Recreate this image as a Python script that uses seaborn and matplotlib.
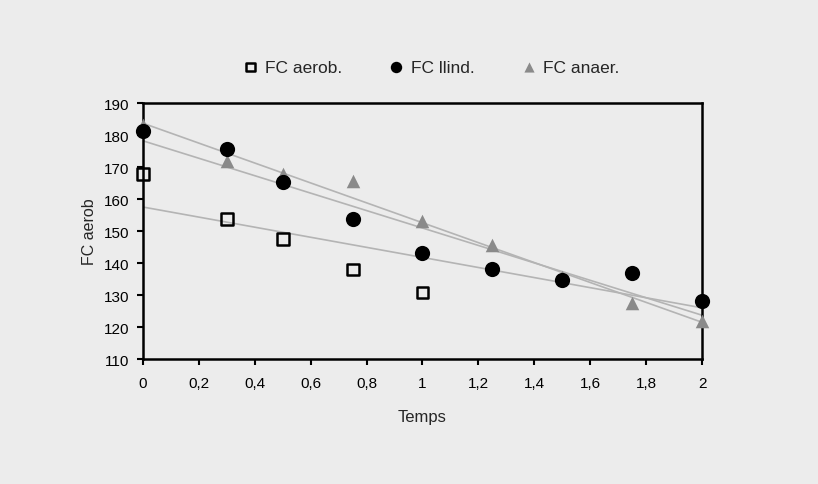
import matplotlib
matplotlib.use("Agg")
import matplotlib.pyplot as plt
import seaborn as sns

# values
temps = [0, 0.3, 0.5, 0.75, 1, 1.25, 1.5, 1.75, 2]
temps_aerob = [0, 0.3, 0.5, 0.75, 1]
fc_aerob = [167.7, 153.8, 147.6, 138.0, 130.8]
fc_llind = [181.4, 175.5, 165.4, 153.8, 143.2, 138.0, 134.6, 137.0, 128.2]
fc_anaer = [183.0, 171.8, 167.7, 165.6, 153.0, 145.6, 135.6, 127.4, 122.0]

# the aerob trend line as printed (it is not a fit of the squares)
aerob_trend_x = [0, 2]
aerob_trend_y = [157.5, 126.0]

x_ticks = [0, 0.2, 0.4, 0.6, 0.8, 1, 1.2, 1.4, 1.6, 1.8, 2]
x_tick_labels = ['0', '0,2', '0,4', '0,6', '0,8', '1', '1,2', '1,4', '1,6', '1,8', '2']
y_ticks = [110, 120, 130, 140, 150, 160, 170, 180, 190]

sns.set_style("ticks")
plt.rcParams['font.family'] = ['Liberation Sans', 'DejaVu Sans']

bg = '#ececec'
fig = plt.figure(figsize=(8.18, 4.85), dpi=100, facecolor=bg)
ax = fig.add_axes([0.1748, 0.2577, 0.6834, 0.5278])
ax.set_facecolor(bg)
ax.set_xlim(0, 2)
ax.set_ylim(110, 190)

## trend lines (drawn first so the markers sit on top)
line_kw = dict(color='#b4b4b4', linewidth=1.2)
sns.lineplot(x=aerob_trend_x, y=aerob_trend_y, ax=ax, **line_kw)
sns.regplot(x=temps, y=fc_llind, ax=ax, scatter=False, ci=None, truncate=False, line_kws=line_kw)
sns.regplot(x=temps, y=fc_anaer, ax=ax, scatter=False, ci=None, truncate=False, line_kws=line_kw)

## points
sns.scatterplot(x=temps_aerob, y=fc_aerob, ax=ax, marker='s', s=72, facecolor='none',
                edgecolor='black', linewidth=1.8, label='FC aerob.', clip_on=False, zorder=4)
sns.scatterplot(x=temps, y=fc_llind, ax=ax, marker='o', s=120, color='black',
                edgecolor='black', linewidth=0, label='FC llind.', clip_on=False, zorder=4)
sns.scatterplot(x=temps, y=fc_anaer, ax=ax, marker='^', s=95, color='#8a8a8a',
                edgecolor='#8a8a8a', linewidth=0, label='FC anaer.', clip_on=False, zorder=3)

ax.set_xticks(x_ticks)
ax.set_xticklabels(x_tick_labels)
ax.set_yticks(y_ticks)
ax.tick_params(labelsize=11, direction='out', length=4, width=1.5, pad=6, colors='black')
ax.tick_params(axis='x', pad=8)
for side in ['left', 'right', 'top', 'bottom']:
    ax.spines[side].set_visible(True)
    ax.spines[side].set_linewidth(1.8)
    ax.spines[side].set_color('black')

ax.set_xlabel('Temps', fontsize=12, labelpad=14)
ax.set_ylabel('FC aerob', fontsize=11.5, labelpad=5)

handles, labels = ax.get_legend_handles_labels()
leg = ax.legend(handles, labels, ncol=3, frameon=False, loc='lower center',
                bbox_to_anchor=(0.515, 1.05), fontsize=12.5, markerscale=0.75,
                handletextpad=0.35, columnspacing=2.6, handlelength=1.0)

plt.savefig('out.png', dpi=100, facecolor=bg)
